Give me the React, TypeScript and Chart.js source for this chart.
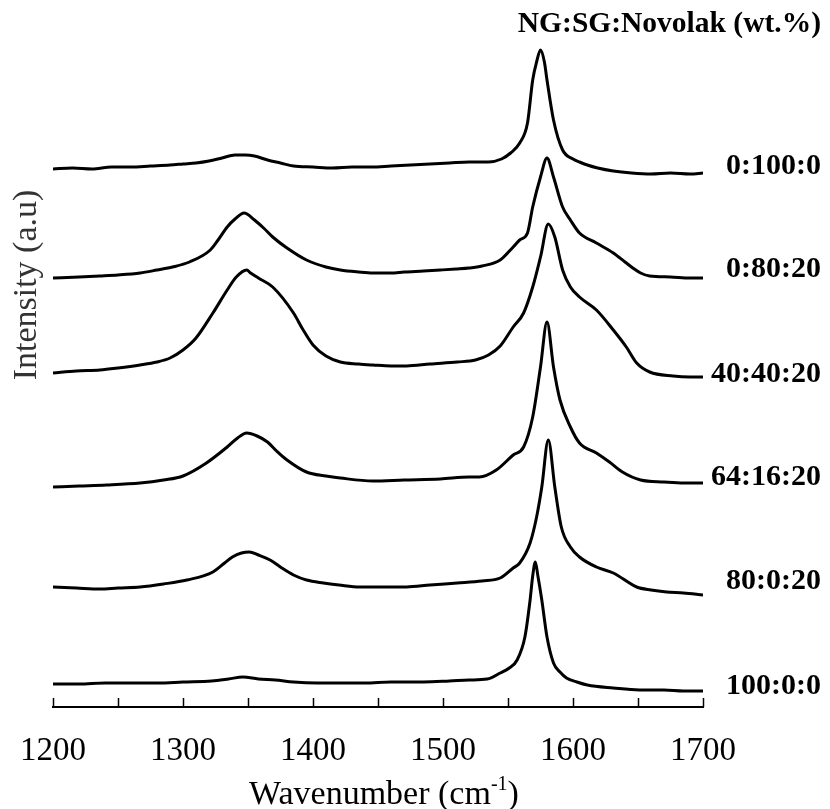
import { useEffect, useRef } from 'react';
import { Chart, registerables } from 'chart.js';

Chart.register(...registerables);

// ---- data (wavenumber in cm-1, intensity in a.u. above each spectrum's own baseline) ----
const sampleLabels = ['0:100:0', '0:80:20', '40:40:20', '64:16:20', '80:0:20', '100:0:0'];
const offsets = [538, 429, 334, 220, 120, 23];

const wn1 = [1200, 1215, 1230, 1245, 1260, 1275, 1290, 1300, 1310, 1320, 1330, 1340, 1348, 1355, 1365, 1375, 1385, 1400, 1415, 1430, 1445, 1460, 1475, 1490, 1505, 1520, 1535, 1545, 1552, 1559, 1565, 1569, 1572, 1575, 1578, 1580, 1585, 1592, 1600, 1605, 1611, 1619, 1631, 1645, 1660, 1675, 1690, 1700];
const int1 = [0, 1, 0, 2, 2, 3, 4, 5, 6, 8, 11, 14, 14, 13, 9, 6, 3, 2, 1, 2, 2, 3, 4, 5, 6, 7, 7, 10, 16, 26, 46, 89, 107, 119, 107, 89, 49, 19, 10, 7, 4, 1, -2, -4, -5, -4, -5, -4];

const wn2 = [1200, 1220, 1236, 1250, 1267, 1280, 1292, 1305, 1321, 1327, 1334, 1340, 1347, 1355, 1362, 1369, 1380, 1395, 1410, 1421, 1435, 1446, 1460, 1470, 1485, 1498, 1510, 1520, 1530, 1544, 1554, 1559, 1565, 1569, 1575, 1580, 1585, 1592, 1598, 1605, 1618, 1631, 1640, 1646, 1652, 1659, 1675, 1690, 1700];
const int2 = [0, 1, 2, 3, 5, 8, 11, 16, 28, 38, 51, 59, 65, 58, 50, 41, 30, 18, 11, 8, 6, 5, 5, 6, 7, 8, 9, 10, 12, 18, 31, 38, 45, 71, 101, 120, 101, 71, 58, 45, 35, 25, 16, 10, 5, 2, 1, 0, 0];

const wn3 = [1200, 1218, 1236, 1250, 1267, 1280, 1290, 1300, 1310, 1323, 1334, 1341, 1349, 1352, 1358, 1369, 1385, 1392, 1400, 1410, 1421, 1435, 1446, 1460, 1472, 1490, 1511, 1525, 1535, 1544, 1554, 1562, 1569, 1575, 1581, 1586, 1592, 1598, 1605, 1618, 1631, 1641, 1649, 1659, 1677, 1690, 1700];
const int3 = [0, 2, 3, 5, 8, 11, 15, 23, 35, 60, 83, 96, 103, 100, 95, 86, 60, 44, 28, 17, 11, 9, 8, 7, 7, 9, 11, 13, 18, 27, 46, 60, 86, 116, 149, 136, 103, 86, 76, 63, 43, 26, 10, 1, -3, -4, -4];

const wn4 = [1200, 1220, 1241, 1267, 1285, 1300, 1318, 1334, 1342, 1349, 1357, 1365, 1372, 1380, 1395, 1410, 1421, 1446, 1470, 1498, 1520, 1528, 1541, 1554, 1562, 1569, 1575, 1580, 1585, 1590, 1598, 1605, 1618, 1628, 1638, 1652, 1670, 1685, 1700];
const int4 = [0, 1, 2, 4, 7, 11, 24, 40, 49, 54, 51, 45, 36, 27, 15, 11, 9, 6, 7, 8, 10, 10, 17, 32, 40, 70, 120, 165, 120, 87, 60, 44, 34, 25, 15, 7, 5, 4, 4];

const wn5 = [1200, 1218, 1236, 1250, 1267, 1285, 1303, 1323, 1332, 1338, 1345, 1351, 1358, 1367, 1376, 1385, 1395, 1408, 1420, 1436, 1455, 1472, 1490, 1511, 1530, 1544, 1554, 1559, 1567, 1572, 1576, 1581, 1586, 1591, 1598, 1605, 1618, 1631, 1649, 1660, 1672, 1685, 1700];
const int5 = [0, -1, -2, -1, 0, 3, 7, 15, 24, 30, 34, 35, 32, 27, 19, 12, 7, 4, 2, 0, 0, 0, 2, 4, 6, 9, 19, 24, 44, 70, 100, 147, 100, 60, 40, 30, 20, 14, 0, -3, -5, -6, -8];

const wn6 = [1200, 1220, 1240, 1260, 1281, 1300, 1322, 1335, 1346, 1358, 1371, 1385, 1403, 1420, 1440, 1460, 1485, 1505, 1520, 1534, 1544, 1551, 1557, 1563, 1567, 1569, 1571, 1573, 1576, 1580, 1585, 1590, 1595, 1603, 1611, 1631, 1651, 1670, 1685, 1700];
const int6 = [0, 0, 1, 1, 1, 2, 3, 5, 7, 5, 4, 2, 1, 1, 1, 2, 2, 3, 4, 5, 11, 16, 24, 47, 84, 108, 122, 108, 84, 47, 21, 12, 6, 2, -1, -4, -6, -6, -7, -7];

const spectraWn = [wn1, wn2, wn3, wn4, wn5, wn6];
const spectraInt = [int1, int2, int3, int4, int5, int6];

const xTickLabels = [1200, 1300, 1400, 1500, 1600, 1700];
const legendTitle = 'NG:SG:Novolak (wt.%)';

const SERIF = "'Liberation Serif', 'Times New Roman', serif";

const annotatePlugin = {
  id: 'annotate',
  afterDraw(chart: any) {
    const { ctx, chartArea } = chart;
    const xs = chart.scales.x;
    ctx.save();
    // inward tick marks
    ctx.strokeStyle = '#000';
    ctx.lineWidth = 1.5;
    for (const t of xs.ticks) {
      const px = Math.round(xs.getPixelForValue(t.value)) + 0.5;
      ctx.beginPath();
      ctx.moveTo(px, chartArea.bottom);
      ctx.lineTo(px, chartArea.bottom - 9);
      ctx.stroke();
    }
    // sample labels
    ctx.fillStyle = '#000';
    ctx.textAlign = 'right';
    ctx.textBaseline = 'middle';
    ctx.font = `bold 30px ${SERIF}`;
    const labelY = [166, 269, 374, 477, 581, 686];
    sampleLabels.forEach((l, i) => ctx.fillText(l, 821, labelY[i]));
    ctx.font = `bold 29.5px ${SERIF}`;
    ctx.fillText(legendTitle, 821, 24);
    // y title
    ctx.save();
    ctx.translate(27, 285);
    ctx.rotate(-Math.PI / 2);
    ctx.textAlign = 'center';
    ctx.fillStyle = '#333';
    ctx.font = `34px ${SERIF}`;
    ctx.fillText('Intensity (a.u)', 0, 0);
    ctx.restore();
    // x title with superscript
    const main = 'Wavenumber (cm';
    const sup = '-1';
    const end = ')';
    ctx.textAlign = 'left';
    ctx.textBaseline = 'alphabetic';
    ctx.font = `34px ${SERIF}`;
    const w1 = ctx.measureText(main).width;
    const w3 = ctx.measureText(end).width;
    ctx.font = `20px ${SERIF}`;
    const w2 = ctx.measureText(sup).width;
    const total = w1 + w2 + w3;
    const x0 = 384 - total / 2;
    const base = 804;
    ctx.font = `34px ${SERIF}`;
    ctx.fillText(main, x0, base);
    ctx.font = `20px ${SERIF}`;
    ctx.fillText(sup, x0 + w1, base - 14);
    ctx.font = `34px ${SERIF}`;
    ctx.fillText(end, x0 + w1 + w2, base);
    ctx.restore();
  },
};

export default function App() {
  const ref = useRef<HTMLCanvasElement | null>(null);
  useEffect(() => {
    if (!ref.current) return;
    const datasets = spectraWn.map((wns, i) => ({
      label: sampleLabels[i],
      data: wns.map((w, j) => ({ x: w, y: spectraInt[i][j] + offsets[i] })),
      borderColor: '#000',
      borderWidth: 3,
      pointRadius: 0,
      fill: false,
      cubicInterpolationMode: 'monotone' as const,
    }));
    const chart = new Chart(ref.current, {
      type: 'line',
      data: { datasets },
      options: {
        animation: false,
        responsive: true,
        maintainAspectRatio: false,
        layout: { padding: { left: 53, right: 127, top: 40, bottom: 0 } },
        plugins: { legend: { display: false }, tooltip: { enabled: false } },
        scales: {
          x: {
            type: 'linear',
            min: 1200,
            max: 1700,
            grid: { display: false },
            border: { display: true, color: '#000', width: 2 },
            ticks: {
              stepSize: 50,
              autoSkip: false,
              maxRotation: 0,
              padding: 17,
              color: '#000',
              font: { family: SERIF, size: 33 },
              callback: (v: any) => (xTickLabels.includes(Number(v)) ? String(v) : ''),
            },
            afterFit: (scale: any) => {
              scale.height = 102;
            },
          },
          y: {
            display: false,
            min: 0,
            max: 667,
          },
        },
      },
      plugins: [annotatePlugin],
    });
    return () => chart.destroy();
  }, []);
  return (
    <div style={{ position: 'fixed', left: 0, top: 0, width: 830, height: 809, background: '#fff' }}>
      <canvas ref={ref} />
    </div>
  );
}
